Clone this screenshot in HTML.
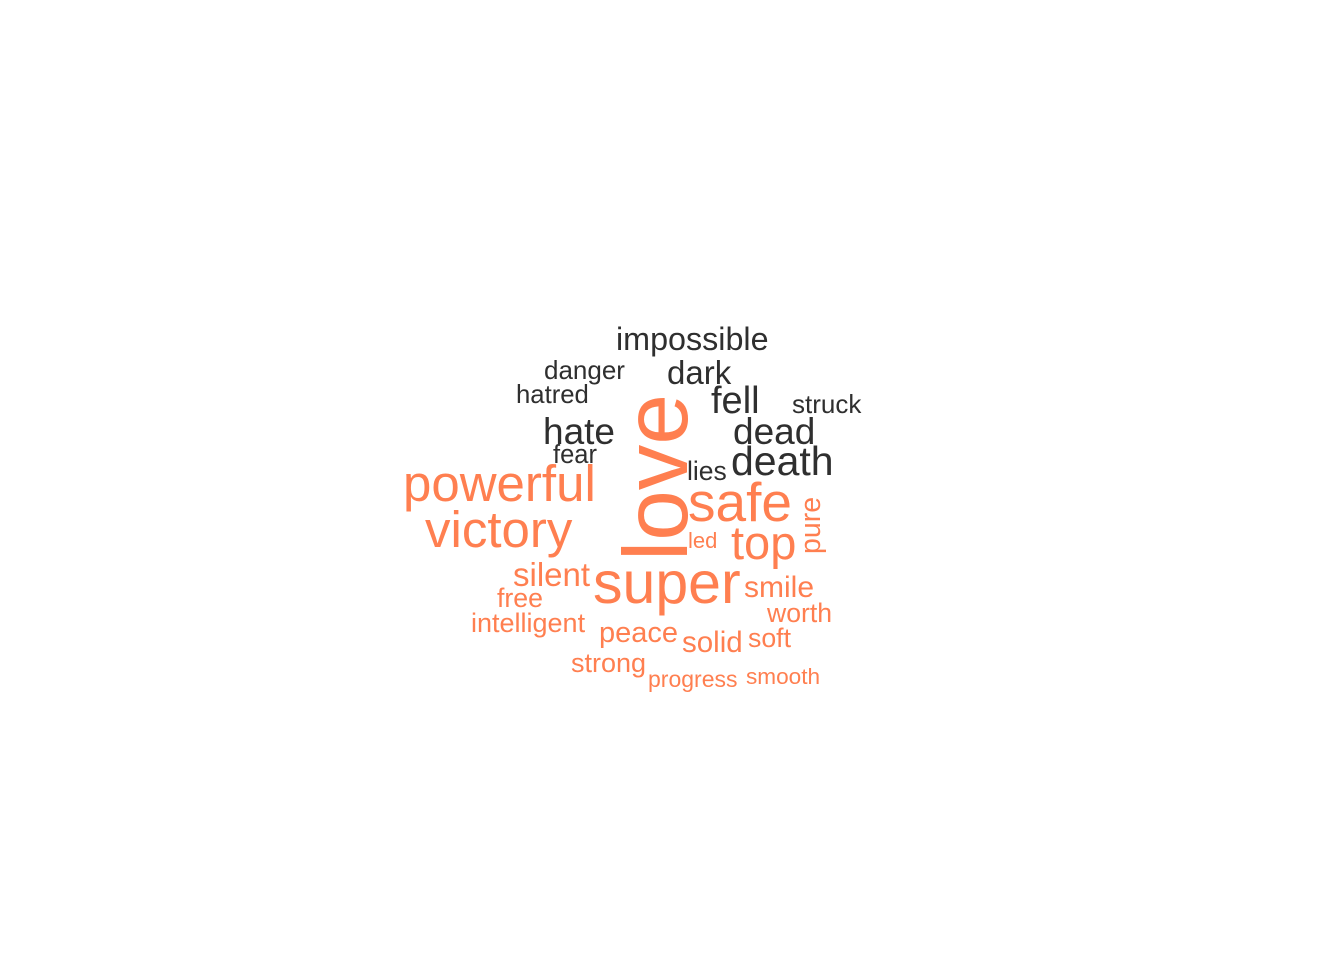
<!DOCTYPE html>
<html><head><meta charset="utf-8"><style>
html,body{margin:0;padding:0;background:#fff;}
svg{display:block;}
text{font-family:"Liberation Sans",Arial,sans-serif;}
</style></head><body>
<svg id="cloud" width="1344" height="960" viewBox="0 0 1344 960"></svg>
<script>
const words = ["impossible","dark","danger","hatred","fell","struck","hate","dead","fear","death","lies","powerful","victory","love","safe","pure","top","led","silent","super","smile","free","worth","intelligent","peace","solid","soft","strong","progress","smooth"];
const sizes = [32.3,33,26,25.7,38,26,37,37,25.5,41,26.5,51,51,91,55,28.5,47,22,33,59,30,26.7,26.6,27,29,29.5,26.7,27,23,22.6];
const sentiment = ["neg","neg","neg","neg","neg","neg","neg","neg","neg","neg","neg","pos","pos","pos","pos","pos","pos","pos","pos","pos","pos","pos","pos","pos","pos","pos","pos","pos","pos","pos"];
const xs = [616,667,544,516,711,792,543,733,553,731,687,403,425,687,688,820,731,688,513,593,744,497,767,471,599,682,748,571,648,746];
const ys = [350,384,379,403,413,413,444,444,463,475,480,501,547,561,521,554,559,548,586,603,597,607,622,632,642,652,647,672,687,684];
const rotated = [0,0,0,0,0,0,0,0,0,0,0,0,0,1,0,1,0,0,0,0,0,0,0,0,0,0,0,0,0,0];
const colors = {neg:"#2f2f2f", pos:"#ff7f50"};
const svg = document.getElementById('cloud');
const NS = "http://www.w3.org/2000/svg";
for (let i = 0; i < words.length; i++) {
  const t = document.createElementNS(NS, 'text');
  
  
  t.setAttribute('x', xs[i]);
  t.setAttribute('y', ys[i]);
  t.setAttribute('font-size', sizes[i]);
  t.setAttribute('fill', colors[sentiment[i]]);
  if (rotated[i]) t.setAttribute('transform', 'rotate(-90 ' + xs[i] + ' ' + ys[i] + ')');
  t.textContent = words[i];
  svg.appendChild(t);
}
</script>
</body></html>
